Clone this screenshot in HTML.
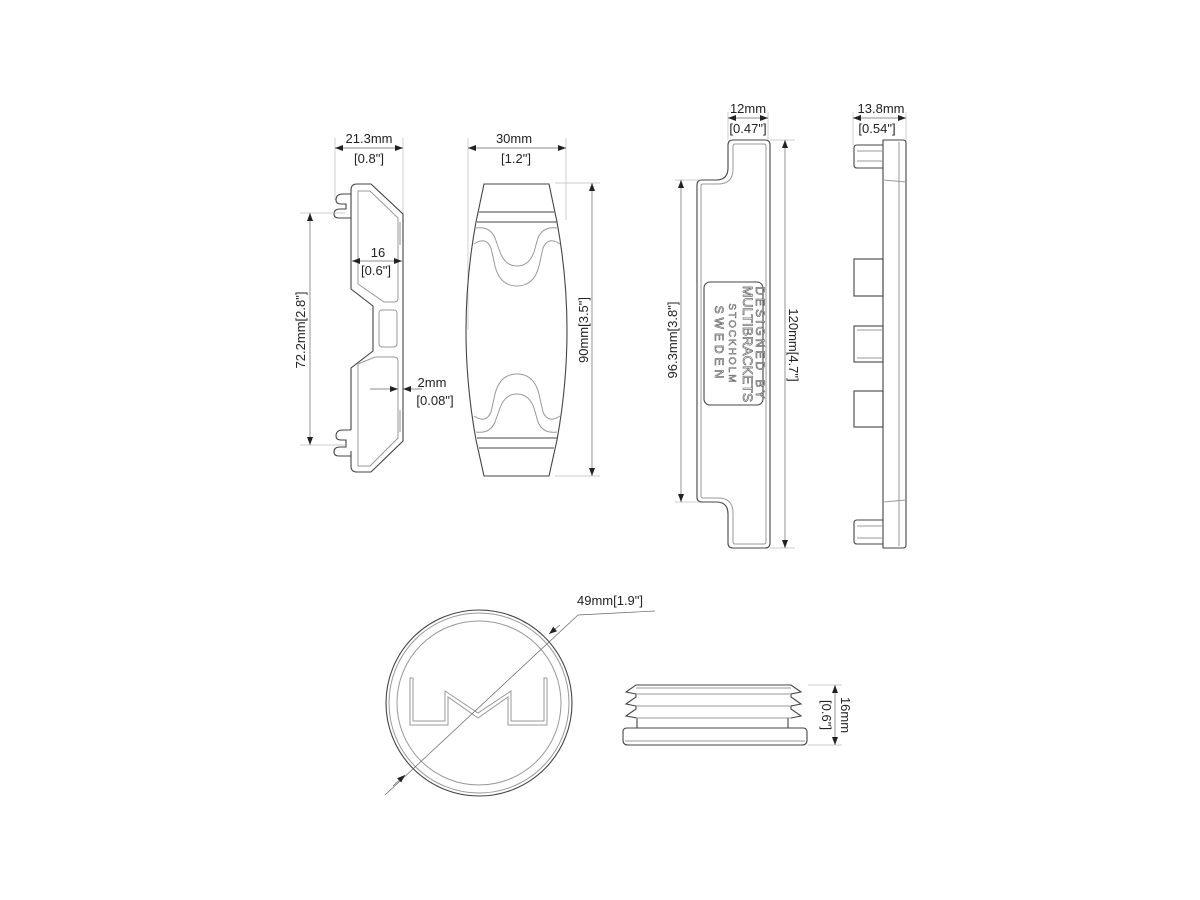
<!DOCTYPE html>
<html><head><style>
html,body{margin:0;padding:0;background:#fff;}
svg{display:block;}
text{font-family:"Liberation Sans",sans-serif;font-size:13px;fill:#222;}
.o{fill:none;stroke:#444;stroke-width:1.1;}
.i{fill:none;stroke:#999;stroke-width:1;}
.d{fill:none;stroke:#666;stroke-width:0.7;}
.e{fill:none;stroke:#bbb;stroke-width:0.7;}
</style></head><body>
<svg width="1200" height="900" viewBox="0 0 1200 900" xmlns="http://www.w3.org/2000/svg">
<defs>
<marker id="a" markerWidth="8" markerHeight="6" refX="8" refY="3" orient="auto-start-reverse" markerUnits="userSpaceOnUse"><path d="M0,0 L8,3 L0,6z" fill="#222"/></marker>
</defs>

<line class="e" x1="335" y1="138" x2="335" y2="200"/>
<line class="e" x1="403" y1="138" x2="403" y2="215"/>
<line class="d" x1="335" y1="148" x2="403" y2="148" marker-start="url(#a)" marker-end="url(#a)"/>
<text x="369" y="143" text-anchor="middle">21.3mm</text>
<text x="369" y="163" text-anchor="middle">[0.8"]</text>

<path class="o" d="M357,184 L371,184 L403,214 L403,441 L371,472 L357,472 Q351,472 351,466 L351,451 M351,203 L351,289 L373,306 L373,351 L351,368 L351,430 M351,203 L351,190 Q351,184 357,184"/>
<path class="o" d="M351,194 L343,194 Q336,194 336,200 Q336,204 341,204 L346,204 L346,209 L340,209 Q334,209 334,214 Q334,218 339,218 L351,218"/>
<path class="o" d="M351,430 L343,430 Q336,430 336,436 Q336,440 341,440 L346,440 L346,447 L340,447 Q334,447 334,452 Q334,456 339,456 L351,456"/>
<path class="i" d="M358,191 L370,191 L398,218 L398,298 Q398,302 394,302 L384,302 L358,284 Z"/>
<rect class="i" x="379" y="310" width="18" height="37" rx="3"/>
<path class="i" d="M358,364 L375,357 L394,357 Q398,357 398,361 L398,438 L370,466 L358,466 Z"/>
<line class="i" x1="400" y1="222" x2="400" y2="245"/>
<line class="i" x1="400" y1="410" x2="400" y2="432"/>

<line class="e" x1="300" y1="213" x2="345" y2="213"/>
<line class="e" x1="300" y1="445" x2="345" y2="445"/>
<line class="d" x1="310" y1="213" x2="310" y2="445" marker-start="url(#a)" marker-end="url(#a)"/>
<text transform="translate(305,330) rotate(-90)" text-anchor="middle">72.2mm[2.8"]</text>

<line class="d" x1="352" y1="261" x2="402" y2="261" marker-start="url(#a)" marker-end="url(#a)"/>
<text x="378" y="257" text-anchor="middle">16</text>
<text x="376" y="275" text-anchor="middle">[0.6"]</text>

<line class="d" x1="370" y1="389" x2="398" y2="389" marker-end="url(#a)"/>
<line class="d" x1="422" y1="389" x2="403" y2="389" marker-end="url(#a)"/>
<text x="432" y="387" text-anchor="middle">2mm</text>
<text x="435" y="405" text-anchor="middle">[0.08"]</text>

<line class="e" x1="468" y1="138" x2="468" y2="330"/>
<line class="e" x1="566" y1="138" x2="566" y2="220"/>
<line class="d" x1="468" y1="148" x2="566" y2="148" marker-start="url(#a)" marker-end="url(#a)"/>
<text x="514" y="143" text-anchor="middle">30mm</text>
<text x="516" y="163" text-anchor="middle">[1.2"]</text>

<path class="o" d="M484,184 L549,184 L557,222 Q577,330 557,440 L549,476 L484,476 L476,440 Q456,330 476,222 Z"/>
<line class="o" x1="479" y1="212" x2="554" y2="212"/>
<line class="o" x1="477" y1="222" x2="557" y2="222"/>
<line class="o" x1="477" y1="438" x2="557" y2="438"/>
<line class="o" x1="479" y1="448" x2="554" y2="448"/>
<path class="i" d="M476,228 Q490,226 495,238 L500,252 Q505,266 517,266 Q529,266 534,252 L538,238 Q543,226 557,228"/>
<path class="i" d="M474,244 Q486,236 491,248 L495,266 Q500,286 517,286 Q534,286 539,266 L543,248 Q548,236 560,244"/>
<path class="i" d="M476,432 Q490,434 495,422 L500,408 Q505,394 517,394 Q529,394 534,408 L538,422 Q543,434 557,432"/>
<path class="i" d="M474,416 Q486,424 491,412 L495,394 Q500,374 517,374 Q534,374 539,394 L543,412 Q548,424 560,416"/>

<line class="e" x1="555" y1="183" x2="600" y2="183"/>
<line class="e" x1="555" y1="476" x2="600" y2="476"/>
<line class="d" x1="592" y1="183" x2="592" y2="476" marker-start="url(#a)" marker-end="url(#a)"/>
<text transform="translate(588,330) rotate(-90)" text-anchor="middle">90mm[3.5"]</text>

<line class="e" x1="728" y1="112" x2="728" y2="140"/>
<line class="e" x1="768" y1="112" x2="768" y2="140"/>
<line class="d" x1="728" y1="118" x2="768" y2="118" marker-start="url(#a)" marker-end="url(#a)"/>
<text x="748" y="113" text-anchor="middle">12mm</text>
<text x="748" y="133" text-anchor="middle">[0.47"]</text>

<path class="o" d="M733,140 L765,140 Q770,140 770,145 L770,543 Q770,548 765,548 L733,548 Q728,548 728,543 L728,514 Q728,502 716,502 L702,502 Q697,502 697,497 L697,185 Q697,180 702,180 L716,180 Q728,180 728,168 L728,145 Q728,140 733,140 Z"/>
<path class="i" d="M735,144 L764,144 Q766,144 766,146 L766,542 Q766,544 764,544 L735,544 Q733,544 733,542 L733,513 Q733,498 718,498 L703,498 Q701,498 701,496 L701,186 Q701,184 703,184 L718,184 Q733,184 733,169 L733,146 Q733,144 735,144 Z"/>
<rect class="o" x="704" y="282" width="59" height="123" rx="6"/>
<g transform="translate(733,344) rotate(90)" text-anchor="middle" style="font-family:'Liberation Mono',monospace;">
<text x="0" y="-23" style="font-size:12px;letter-spacing:3px;fill:#fff;stroke:#555;stroke-width:0.6">DESIGNED BY</text>
<text x="0" y="-10" style="font-size:14px;fill:#fff;stroke:#555;stroke-width:0.6">MULTIBRACKETS</text>
<text x="0" y="4" style="font-size:10px;letter-spacing:2px;fill:#fff;stroke:#555;stroke-width:0.5">STOCKHOLM</text>
<text x="0" y="18" style="font-size:12px;letter-spacing:4px;fill:#fff;stroke:#555;stroke-width:0.6">SWEDEN</text>
</g>

<line class="e" x1="770" y1="140" x2="795" y2="140"/>
<line class="e" x1="770" y1="548" x2="795" y2="548"/>
<line class="d" x1="785" y1="140" x2="785" y2="548" marker-start="url(#a)" marker-end="url(#a)"/>
<text transform="translate(789,345) rotate(90)" text-anchor="middle">120mm[4.7"]</text>

<line class="e" x1="675" y1="180" x2="700" y2="180"/>
<line class="e" x1="675" y1="502" x2="700" y2="502"/>
<line class="d" x1="681" y1="180" x2="681" y2="502" marker-start="url(#a)" marker-end="url(#a)"/>
<text transform="translate(677,340) rotate(-90)" text-anchor="middle">96.3mm[3.8"]</text>

<line class="e" x1="853" y1="112" x2="853" y2="145"/>
<line class="e" x1="906" y1="112" x2="906" y2="145"/>
<line class="d" x1="853" y1="118" x2="906" y2="118" marker-start="url(#a)" marker-end="url(#a)"/>
<text x="881" y="113" text-anchor="middle">13.8mm</text>
<text x="877" y="133" text-anchor="middle">[0.54"]</text>
<path class="o" d="M883,140 L903,140 Q906,140 906,143 L906,545 Q906,548 903,548 L883,548 Z"/>
<line class="i" x1="899" y1="142" x2="899" y2="546"/>
<line class="i" x1="883" y1="180" x2="906" y2="182"/>
<line class="i" x1="883" y1="502" x2="906" y2="500"/>
<path class="o" d="M883,145 L857,145 Q854,145 854,148 L854,165 Q854,168 857,168 L883,168"/>
<line class="i" x1="857" y1="151" x2="883" y2="151"/><line class="i" x1="857" y1="161" x2="883" y2="161"/>
<rect class="o" x="854" y="259" width="29" height="37"/>
<rect class="o" x="854" y="326" width="29" height="36"/>
<line class="i" x1="857" y1="330" x2="883" y2="330"/><line class="i" x1="857" y1="358" x2="883" y2="358"/>
<rect class="o" x="854" y="391" width="29" height="36"/>
<path class="o" d="M883,520 L857,520 Q854,520 854,523 L854,541 Q854,544 857,544 L883,544"/>
<line class="i" x1="857" y1="526" x2="883" y2="526"/><line class="i" x1="857" y1="538" x2="883" y2="538"/>

<circle class="o" cx="479" cy="703" r="93"/>
<circle class="i" cx="479" cy="703" r="90"/>
<circle class="i" cx="479" cy="703" r="82"/>
<path class="i" d="M410,678 L410,725 L448,725 L448,697 L478,718 L508,697 L508,725 L547,725 L547,678 L544,678 L544,721 L511,721 L511,691 L478,713 L445,691 L445,721 L413,721 L413,678 Z"/>
<line class="d" x1="385" y1="795" x2="578" y2="615"/>
<line class="d" x1="578" y1="615" x2="655" y2="611"/>
<line class="d" x1="560" y1="625" x2="549" y2="634" marker-end="url(#a)"/>
<line class="d" x1="393" y1="786" x2="405" y2="775" marker-end="url(#a)"/>
<text x="610" y="605" text-anchor="middle">49mm[1.9"]</text>

<path class="o" d="M636,685 L791,685 L801,692 L791,694 L791,697 L801,704 L791,706 L791,709 L801,716 L791,718 L788,718 L788,728 L637,728 L637,718 L626,716 L636,709 L636,706 L626,704 L636,697 L636,694 L626,692 Z"/>
<line class="i" x1="636" y1="688" x2="791" y2="688"/>
<line class="i" x1="636" y1="694" x2="791" y2="694"/>
<line class="i" x1="636" y1="706" x2="791" y2="706"/>
<line class="i" x1="636" y1="718" x2="791" y2="718"/>
<path class="o" d="M627,728 L803,728 Q807,728 807,732 L807,740 Q807,745 802,745 L628,745 Q623,745 623,740 L623,732 Q623,728 627,728 Z"/>
<line class="i" x1="625" y1="741" x2="805" y2="741"/>
<line class="e" x1="808" y1="685" x2="842" y2="685"/>
<line class="e" x1="808" y1="745" x2="842" y2="745"/>
<line class="d" x1="835" y1="685" x2="835" y2="745" marker-start="url(#a)" marker-end="url(#a)"/>
<text transform="translate(841,715) rotate(90)" text-anchor="middle">16mm</text>
<text transform="translate(822,715) rotate(90)" text-anchor="middle">[0.6"]</text>
</svg>
</body></html>
